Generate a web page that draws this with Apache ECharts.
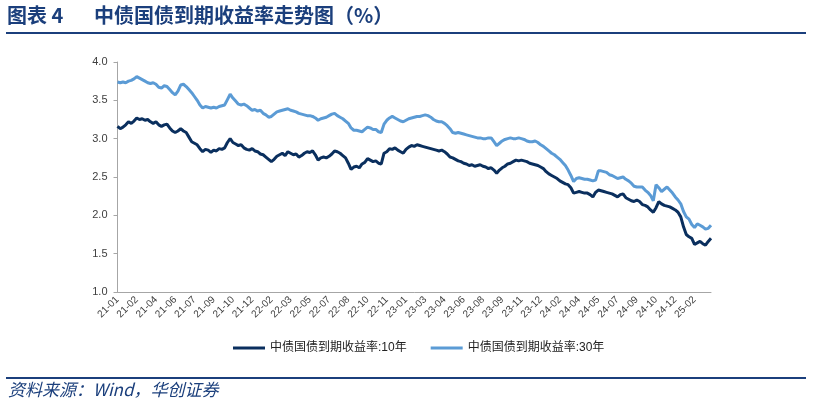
<!DOCTYPE html>
<html>
<head>
<meta charset="utf-8">
<script src="https://cdn.jsdelivr.net/npm/echarts@6/dist/echarts.min.js"></script>
<style>
html,body{margin:0;padding:0;background:#fff;}
#c{width:814px;height:408px;}
</style>
</head>
<body>
<div id="c"></div>
<script>
// Tick labels shown on the x axis (one every 7 weekly points)
const tickLabels = ['21-01','21-02','21-04','21-06','21-07','21-09','21-10','21-12','22-02','22-03','22-05','22-07','22-08','22-10','22-11','23-01','23-03','23-04','23-06','23-08','23-09','23-11','23-12','24-02','24-04','24-05','24-07','24-09','24-10','24-12','25-02'];

// 中债国债到期收益率:10年 (weekly, %)
const y10 = [3.16,3.13,3.15,3.18,3.22,3.20,3.23,3.27,3.25,3.26,3.24,3.25,3.22,3.20,3.22,3.18,3.16,3.18,3.19,3.14,
3.10,3.08,3.10,3.13,3.10,3.08,3.02,2.96,2.94,2.92,2.87,2.83,2.86,2.85,2.82,2.85,2.84,2.87,2.86,2.88,
2.95,3.00,2.95,2.93,2.91,2.92,2.88,2.86,2.85,2.87,2.84,2.83,2.80,2.79,2.76,2.73,2.70,2.73,2.77,2.79,
2.81,2.78,2.83,2.81,2.79,2.80,2.76,2.78,2.81,2.83,2.82,2.84,2.79,2.72,2.75,2.76,2.75,2.77,2.80,2.84,
2.83,2.81,2.78,2.75,2.68,2.60,2.63,2.64,2.62,2.67,2.69,2.74,2.72,2.70,2.71,2.68,2.67,2.81,2.83,2.87,
2.86,2.88,2.85,2.83,2.81,2.86,2.89,2.91,2.90,2.92,2.91,2.90,2.89,2.88,2.87,2.86,2.85,2.84,2.85,2.83,
2.80,2.76,2.75,2.73,2.71,2.70,2.68,2.67,2.65,2.66,2.64,2.65,2.66,2.64,2.63,2.61,2.62,2.59,2.55,2.59,
2.62,2.64,2.67,2.68,2.70,2.72,2.71,2.72,2.71,2.70,2.68,2.67,2.66,2.65,2.63,2.61,2.57,2.54,2.52,2.50,
2.48,2.45,2.43,2.41,2.40,2.36,2.29,2.30,2.31,2.30,2.29,2.29,2.27,2.24,2.30,2.33,2.32,2.31,2.30,2.29,
2.28,2.26,2.24,2.27,2.28,2.23,2.21,2.19,2.18,2.20,2.18,2.14,2.13,2.11,2.07,2.04,2.10,2.18,2.15,2.13,
2.12,2.11,2.09,2.07,2.04,1.98,1.85,1.75,1.72,1.70,1.62,1.64,1.66,1.63,1.61,1.66,1.70];

// 中债国债到期收益率:30年 (weekly, %)
const y30 = [3.74,3.73,3.74,3.73,3.75,3.76,3.78,3.81,3.79,3.77,3.75,3.73,3.72,3.73,3.71,3.67,3.66,3.69,3.68,3.64,
3.60,3.57,3.62,3.70,3.71,3.68,3.64,3.60,3.55,3.50,3.44,3.40,3.42,3.41,3.40,3.41,3.40,3.42,3.43,3.44,
3.51,3.58,3.53,3.49,3.45,3.44,3.45,3.43,3.40,3.37,3.38,3.36,3.37,3.33,3.31,3.28,3.29,3.32,3.35,3.36,
3.37,3.38,3.39,3.37,3.36,3.35,3.33,3.32,3.31,3.30,3.30,3.29,3.27,3.24,3.26,3.27,3.28,3.30,3.32,3.33,
3.30,3.28,3.26,3.23,3.20,3.14,3.11,3.11,3.10,3.09,3.12,3.15,3.14,3.12,3.12,3.09,3.08,3.19,3.24,3.27,
3.29,3.27,3.25,3.23,3.22,3.24,3.26,3.27,3.28,3.29,3.29,3.30,3.31,3.30,3.28,3.25,3.23,3.22,3.22,3.20,
3.17,3.13,3.08,3.07,3.08,3.07,3.06,3.05,3.04,3.03,3.02,3.01,3.01,3.00,3.00,3.01,3.01,2.96,2.91,2.94,
2.97,2.99,3.00,3.01,3.00,3.00,3.01,3.00,2.99,2.97,2.96,2.96,2.97,2.95,2.92,2.90,2.87,2.84,2.81,2.79,
2.76,2.73,2.69,2.65,2.59,2.52,2.44,2.48,2.49,2.48,2.47,2.47,2.46,2.45,2.46,2.58,2.58,2.57,2.56,2.53,
2.52,2.50,2.48,2.49,2.50,2.47,2.45,2.42,2.38,2.37,2.37,2.37,2.33,2.30,2.26,2.19,2.40,2.36,2.31,2.34,
2.37,2.33,2.29,2.24,2.20,2.15,2.05,1.98,1.95,1.88,1.84,1.89,1.87,1.85,1.82,1.83,1.87];

const seriesNames = ['中债国债到期收益率:10年', '中债国债到期收益率:30年'];
const labelStep = 7;

const categories = y10.map((_, i) => (i % labelStep === 0 && tickLabels[i / labelStep]) ? tickLabels[i / labelStep] : '');

const chart = echarts.init(document.getElementById('c'), null, {renderer: 'canvas'});
const titleColor = '#1b3f7c';
chart.setOption({
  animation: false,
  backgroundColor: '#fff',
  graphic: [
    {type: 'text', left: 7, top: 5, style: {text: '图表 4', font: 'bold 20px "Noto Sans CJK SC"', fill: titleColor}},
    {type: 'text', left: 94, top: 5, style: {text: '中债国债到期收益率走势图（%）', font: 'bold 20px "Noto Sans CJK SC"', fill: titleColor}},
    {type: 'rect', shape: {x: 6, y: 32, width: 800, height: 2}, style: {fill: titleColor}},
    {type: 'rect', shape: {x: 6, y: 377, width: 800, height: 2}, style: {fill: titleColor}},
    {type: 'text', left: 8, top: 381, style: {text: '资料来源：Wind，华创证券', font: 'italic 17px "Noto Sans CJK SC", serif', fill: titleColor}}
  ],
  grid: {left: 117.5, right: 103, top: 62, bottom: 116, containLabel: false},
  legend: {
    top: 337, left: 228,
    itemWidth: 32, itemHeight: 3, itemGap: 24,
    icon: 'rect',
    textStyle: {fontFamily: 'Liberation Sans, Noto Sans CJK SC', fontSize: 12, color: '#222'},
    data: seriesNames
  },
  xAxis: {
    type: 'category',
    data: categories,
    boundaryGap: false,
    axisLine: {lineStyle: {color: '#a6a6a6', width: 1}},
    axisTick: {show: false},
    axisLabel: {interval: labelStep - 1, rotate: 45, fontSize: 10, color: '#404040', fontFamily: 'Liberation Sans', margin: 6}
  },
  yAxis: {
    type: 'value',
    min: 1, max: 4, interval: 0.5,
    splitLine: {show: false},
    axisLine: {show: true, lineStyle: {color: '#a6a6a6', width: 1}},
    axisTick: {show: true, length: 4, lineStyle: {color: '#a6a6a6'}},
    axisLabel: {formatter: v => v.toFixed(1), fontSize: 11, color: '#404040', fontFamily: 'Liberation Sans', margin: 10}
  },
  series: [
    {name: seriesNames[0], type: 'line', data: y10, showSymbol: false, lineStyle: {width: 3, color: '#0a2f5e'}, itemStyle: {color: '#0a2f5e'}},
    {name: seriesNames[1], type: 'line', data: y30, showSymbol: false, lineStyle: {width: 3, color: '#5b9bd5'}, itemStyle: {color: '#5b9bd5'}}
  ]
});
</script>
</body>
</html>
